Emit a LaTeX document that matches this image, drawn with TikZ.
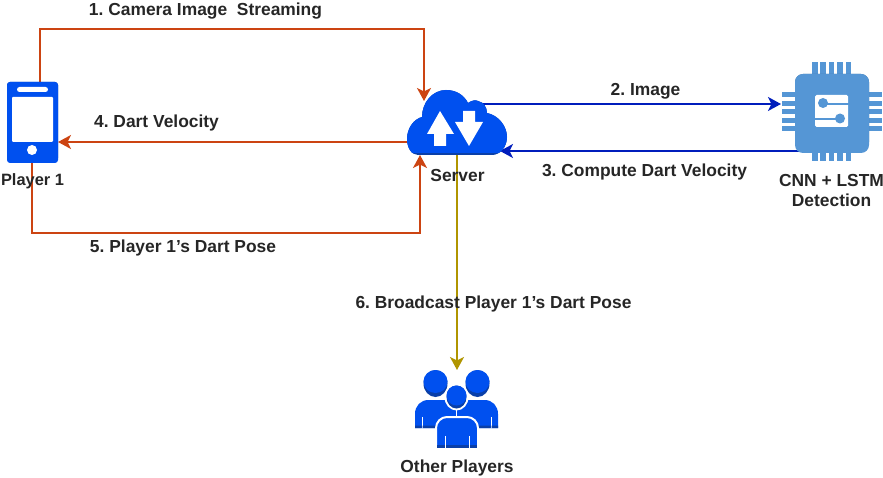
\documentclass[tikz,border=0pt]{standalone}
\usepackage{fontspec}
\setmainfont{Liberation Sans}
\usetikzlibrary{arrows.meta}
\definecolor{iconblue}{HTML}{0050EF}
\definecolor{icondark}{HTML}{0A3FA8}
\definecolor{chipblue}{HTML}{5596D5}
\definecolor{chipdark}{HTML}{3F6F9E}
\definecolor{linered}{HTML}{CC4412}
\definecolor{lineblue}{HTML}{001DBC}
\definecolor{lineyellow}{HTML}{B09500}
\tikzset{
	box/.style={inner sep=0pt,outer sep=0pt},
	lbl/.style={font=\bfseries\fontsize{17.4}{19.5}\selectfont\frenchspacing,text=black!85,align=center,inner sep=0pt},
	tip/.style={-{Stealth[length=13pt,width=14pt,inset=3.5pt]}},
	redline/.style={draw=linered,line width=1.6pt,tip},
	blueline/.style={draw=lineblue,line width=1.6pt,tip},
	yellowline/.style={draw=lineyellow,line width=1.6pt,tip},
	pinpart/.style={fill=chipblue,box},
}
\newcommand{\cloudshape}{(418,155) .. controls (411,155) and (407,147) .. (407,139)
	.. controls (407,128) and (414,119) .. (422,117)
	.. controls (422,102) and (433,90) .. (446,90)
	.. controls (456,90) and (464,95) .. (468,103)
	.. controls (472,100) and (476,100) .. (478,101)
	.. controls (484,102) and (487,108) .. (487,113)
	.. controls (498,115) and (507,126) .. (507,137)
	.. controls (507,147) and (500,155) .. (492,155) -- cycle}
\begin{document}
\begin{tikzpicture}[x=1pt,y=-1pt]
	\useasboundingbox (0,0) rectangle (883,478);
	% anchors of the icons
	\node[box,minimum width=51pt,minimum height=79pt] (player) at (32.5,121.5) {};
	\node[box,minimum width=100pt,minimum height=65pt] (server) at (457,122.5) {};
	\node[box,minimum width=74pt,minimum height=76pt] (chip) at (832,112) {};
	\node[box,minimum width=84pt,minimum height=78pt] (others) at (457,409) {};
	\coordinate (c1a) at (40,29);
	\coordinate (c1b) at (424,29);
	\coordinate (c5a) at (32,233);
	\coordinate (c5b) at (420,233);
	\coordinate (pins) at (781,104);
	% connectors
	\draw[redline] (c1a |- player.north) -- (c1a) -- (c1b) -- ([yshift=-1pt]c1b |- 0,100);
	\draw[redline] (server.west |- 0,142) -- (player.east |- 0,142);
	\draw[redline] (c5a |- player.south) -- (c5a) -- (c5b) -- (c5b |- server.south);
	\draw[blueline] (483,104) -- (pins);
	\draw[blueline] (799,151) -- (500,151);
	\draw[yellowline] (server.south) -- (others.north);
	% phone
	\fill[icondark,rounded corners=3pt] (player.north west) rectangle (player.south east);
	\fill[iconblue,rounded corners=3pt] (player.north west) rectangle ([yshift=-2pt]player.south east);
	\fill[white,rounded corners=1pt] (12,97) rectangle (53,142);
	\fill[white,rounded corners=2.5pt] (17,87) rectangle (48,92);
	\fill[white] (32,150) circle (5);
	% cloud
	\fill[icondark] \cloudshape;
	\begin{scope}
		\clip \cloudshape;
		\fill[iconblue] (400,85) rectangle (515,153);
	\end{scope}
	\fill[white] (440,111) -- (454,134) -- (446,134) -- (446,146) -- (434,146) -- (434,134) -- (427,134) -- cycle;
	\fill[white] (469,146) -- (455,122) -- (463,122) -- (463,111) -- (475,111) -- (475,122) -- (483,122) -- cycle;
	% chip
	\foreach \i in {0,1,2,3,4}{
		\fill[pinpart] (812+8.4*\i,62) rectangle +(5.5,99);
		\fill[pinpart] (782,92+8.6*\i) rectangle +(100,5);
	};
	\fill[chipdark,rounded corners=8pt] (chip.north west) rectangle (chip.south east);
	\fill[chipblue,rounded corners=8pt] (chip.north west) rectangle ([yshift=-3pt]chip.south east);
	\fill[white,rounded corners=1.5pt] (815,95) rectangle (848,127);
	\draw[chipblue,line width=2pt] (823,104.5) -- (849,104.5) (840,119.5) -- (814,119.5);
	\fill[chipblue] (823,103) circle (5) (840,118.5) circle (5);
	% other players
	\foreach \sx in {1,-1}{
		\begin{scope}[shift={(456.5,0)},xscale=\sx]
			\fill[iconblue] (41.5,428) -- (41.5,414) .. controls (41.5,406) and (36,400) .. (28,400) -- (0,400) -- (0,428) -- cycle;
			\fill[white] (21,383.5) ellipse (13.5 and 15);
			\fill[icondark] (21,383.5) ellipse (12 and 13.5);
			\fill[iconblue] (21,381.5) ellipse (12 and 11.5);
			\draw[white,line width=1pt] (34.5,417) -- (34.5,428);
			\fill[icondark] (41.5,428) rectangle (35,425.5) (34,428) rectangle (20,425.5);
		\end{scope}
	};
	\fill[iconblue,draw=white,line width=2pt] (436,449) -- (436,428) .. controls (436,422) and (441,417) .. (447,417) -- (467,417) .. controls (473,417) and (478,422) .. (478,428) -- (478,449) -- cycle;
	\fill[icondark] (437,448) rectangle (477,445);
	\draw[white,line width=1pt] (445,436) -- (445,448) (469,436) -- (469,448);
	\fill[white] (456.5,397) ellipse (12 and 13.5);
	\fill[icondark] (456.5,397) ellipse (10 and 11.5);
	\fill[iconblue] (456.5,395.5) ellipse (10 and 10);
	\draw[white,line width=1.5pt] (456.5,409) -- (456.5,417);
	% labels
	\node[lbl] (l1) at (205.5,11) {1. Camera Image\ \ Streaming};
	\node[lbl] (l2) at (645.5,91) {2. Image};
	\node[lbl] (l3) at (644.5,172) {3. Compute Dart Velocity};
	\node[lbl] (l4) at (156.5,123) {4. Dart Velocity};
	\node[lbl] (l5) at (183,248) {5. Player 1\char39 s Dart Pose};
	\node[lbl] (l6) at (493.5,304) {6. Broadcast Player 1\char39 s Dart Pose};
	\node[lbl,font=\bfseries\fontsize{16.4}{19.5}\selectfont] (lplayer) at (32.5,181) {Player 1};
	\node[lbl] (lserver) at (457.5,176) {Server};
	\node[lbl] (lchip) at (831.5,190.5) {CNN + LSTM\\Detection};
	\node[lbl] (lothers) at (457,468) {Other Players};
\end{tikzpicture}
\end{document}
